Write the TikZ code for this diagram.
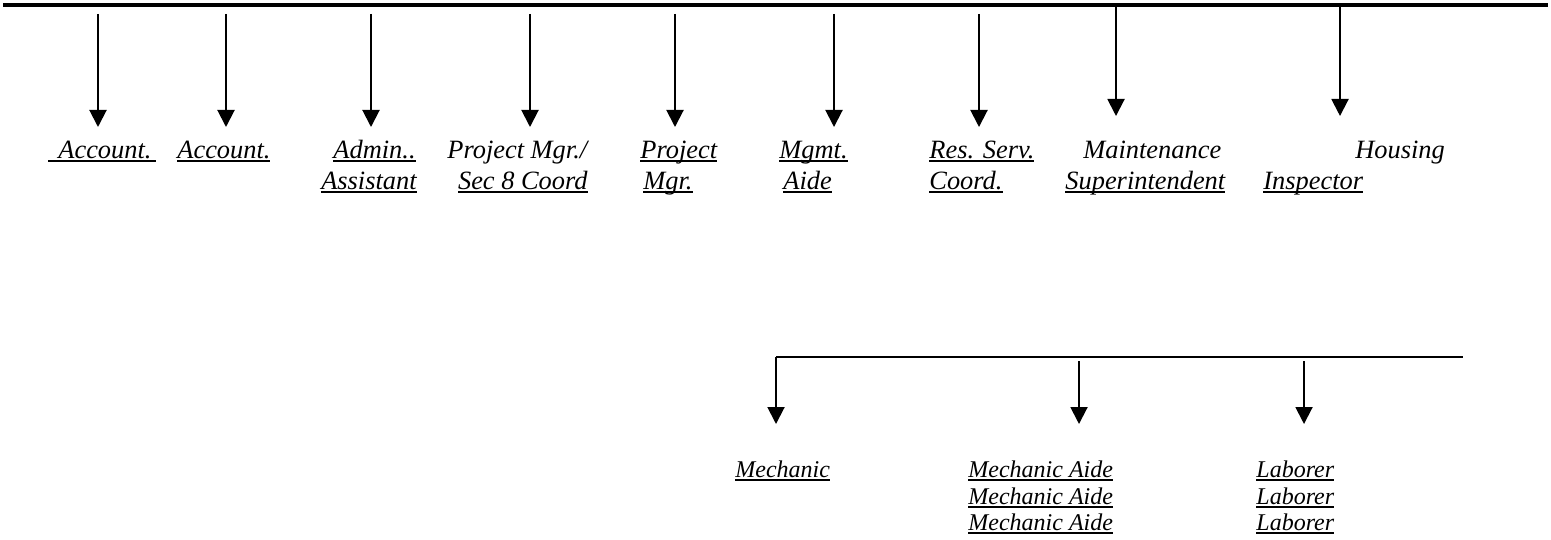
\documentclass[tikz,border=0pt]{standalone}
\usepackage{fontspec}
\setmainfont{Liberation Serif}
\usepackage{tikz}
\usetikzlibrary{arrows.meta}

\newsavebox\ulbox
\newcommand\ulin[1]{\sbox\ulbox{#1}\rlap{\rule[-1.8pt]{\wd\ulbox}{0.75pt}}\usebox\ulbox}

\tikzset{
  topbar/.style={line width=2pt},
  subbar/.style={line width=1.2pt},
  arr/.style={line width=1pt, -{Triangle[width=8.5pt,length=8.5pt]}},
  lbl/.style={inner sep=0pt, anchor=base west, font=\itshape\fontsize{13.2}{15}\selectfont},
  lblr/.style={lbl, anchor=base east},
  lbls/.style={lbl, font=\itshape\fontsize{12}{14}\selectfont}
}

\begin{document}
\begin{tikzpicture}[x=0.5pt, y=-0.5pt]
  \useasboundingbox (0,0) rectangle (1551,540);

  % top level bar and arrows
  \coordinate (topL) at (3,5.5);
  \coordinate (topR) at (1548,5.5);
  \draw[topbar] (topL) -- (topR);
  \foreach \x/\n in {98/a, 226/b, 371/c, 530/d, 675/e, 834/f, 979/g} {
    \coordinate (s\n) at (\x,14);
    \coordinate (e\n) at (\x,127);
    \draw[arr] (s\n) -- (e\n);
  }
  \foreach \x/\n in {1116/h, 1340/i} {
    \coordinate (s\n) at (\x,7);
    \coordinate (e\n) at (\x,116);
    \draw[arr] (s\n) -- (e\n);
  }

  % positions
  \node[lbl] (acc1) at (48,158) {\ulin{\hspace{5pt}Account.\hspace{2.5pt}}};
  \node[lbl] (acc2) at (177,158) {\ulin{Account.}};
  \node[lblr] (adm1) at (416,158) {\ulin{Admin..}};
  \node[lblr] (adm2) at (417,189) {\ulin{Assistant}};
  \node[lbl] (pm1) at (447,158) {Project Mgr./};
  \node[lblr] (pm2) at (588,189) {\ulin{Sec 8 Coord}};
  \node[lbl] (proj1) at (640,158) {\ulin{Project}};
  \node[lbl] (proj2) at (643,189) {\ulin{Mgr.}};
  \node[lbl] (mg1) at (779,158) {\ulin{Mgmt.}};
  \node[lbl] (mg2) at (783,189) {\ulin{Aide}};
  \node[lbl] (rs1) at (929,158) {\ulin{Res. Serv.}};
  \node[lbl] (rs2) at (929,189) {\ulin{Coord.}};
  \node[lbl] (mt1) at (1083,158) {Maintenance};
  \node[lbl] (mt2) at (1065,189) {\ulin{Superintendent}};
  \node[lbl] (hs1) at (1355,158) {Housing};
  \node[lbl] (hs2) at (1263,189) {\ulin{Inspector}};

  % maintenance staff
  \coordinate (subL) at (776,357);
  \coordinate (subR) at (1463,357);
  \draw[subbar] (subL) -- (subR);
  \coordinate (m1) at (776,424);
  \draw[arr] (subL) -- (m1);
  \foreach \x/\n in {1079/2, 1304/3} {
    \coordinate (ms\n) at (\x,361);
    \coordinate (m\n) at (\x,424);
    \draw[arr] (ms\n) -- (m\n);
  }

  \node[lbls] (mech) at (735,477) {\ulin{Mechanic}};
  \foreach \y/\n in {477/1, 504/2, 530/3} {
    \node[lbls] (aide\n) at (968,\y) {\ulin{Mechanic Aide}};
    \node[lbls] (lab\n) at (1256,\y) {\ulin{Laborer}};
  }
\end{tikzpicture}
\end{document}
